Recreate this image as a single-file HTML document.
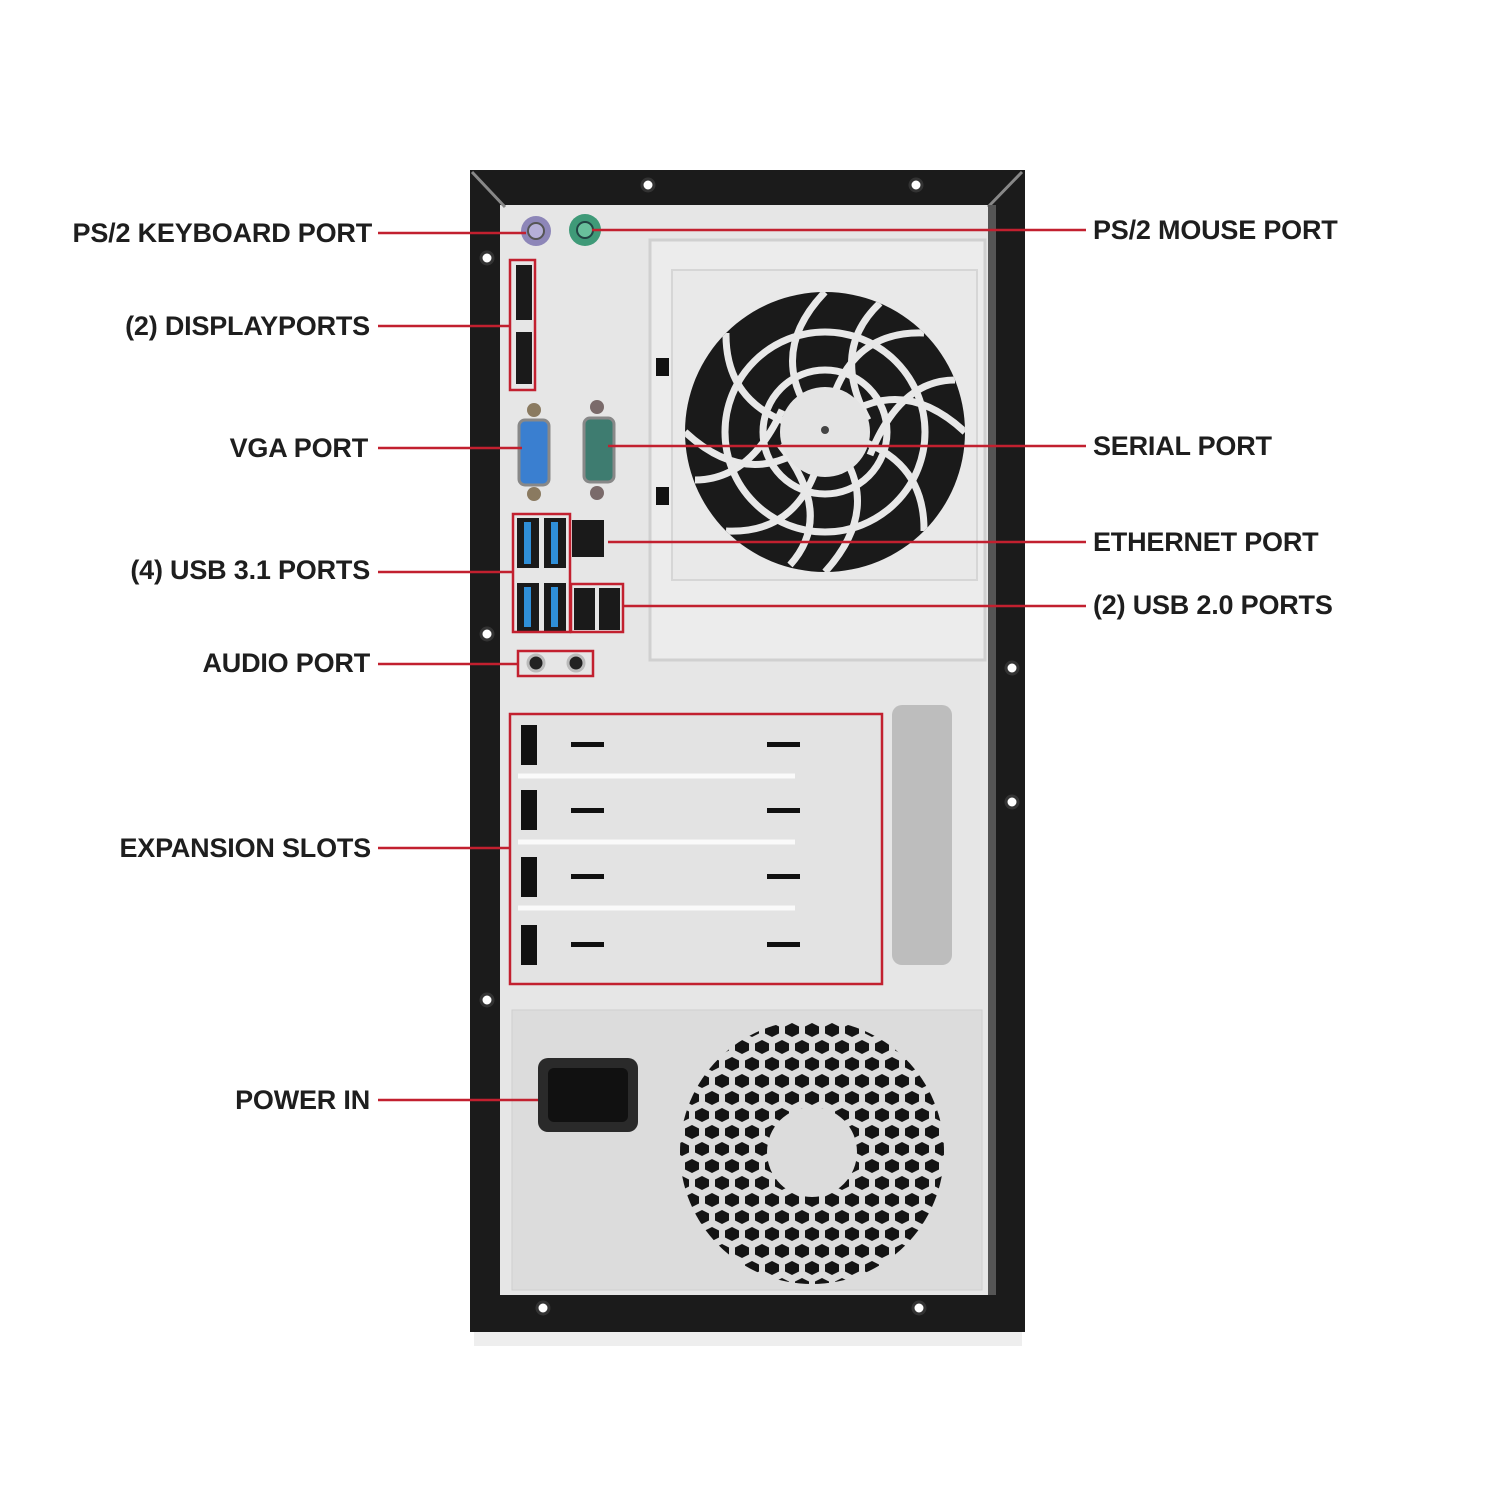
<!DOCTYPE html>
<html><head><style>
html,body{margin:0;padding:0;background:#fff;}
body{width:1500px;height:1500px;position:relative;overflow:hidden;font-family:"Liberation Sans",Arial,sans-serif;}
.l{position:absolute;font-weight:bold;font-size:27px;color:#1e1e1e;white-space:nowrap;line-height:30px;letter-spacing:-0.2px;}
.r{text-align:right;}
</style></head><body>
<svg width="1500" height="1500" style="position:absolute;left:0;top:0">
<defs>
<pattern id="hex" x="2" y="2" width="20" height="34" patternUnits="userSpaceOnUse">
<polygon points="10,1 17,4.5 17,11.5 10,15 3,11.5 3,4.5" fill="#141414"/>
<polygon points="0,18 7,21.5 7,28.5 0,32 -7,28.5 -7,21.5" fill="#141414"/>
<polygon points="20,18 27,21.5 27,28.5 20,32 13,28.5 13,21.5" fill="#141414"/>
</pattern>
<clipPath id="fanc"><circle cx="825" cy="432" r="140"/></clipPath>
</defs>
<rect x="470" y="170" width="555" height="1162" fill="#1b1b1b"/>
<rect x="474" y="1332" width="548" height="14" fill="#eee"/>
<rect x="500" y="205" width="490" height="1090" fill="#e6e6e6"/>
<line x1="472" y1="172" x2="505" y2="207" stroke="#888" stroke-width="3"/>
<line x1="1022" y1="172" x2="988" y2="207" stroke="#888" stroke-width="3"/>
<rect x="988" y="205" width="8" height="1090" fill="#555"/>
<g fill="#fff" stroke="#333" stroke-width="3">
<circle cx="648" cy="185" r="6"/><circle cx="916" cy="185" r="6"/>
<circle cx="487" cy="258" r="6"/><circle cx="487" cy="634" r="6"/><circle cx="487" cy="1000" r="6"/>
<circle cx="1012" cy="668" r="6"/><circle cx="1012" cy="802" r="6"/>
<circle cx="543" cy="1308" r="6"/><circle cx="919" cy="1308" r="6"/>
</g>
<rect x="650" y="240" width="335" height="420" fill="#ececec" stroke="#d0d0d0" stroke-width="3"/>
<rect x="672" y="270" width="305" height="310" fill="#e9e9e9" stroke="#d6d6d6" stroke-width="2"/>
<circle cx="825" cy="432" r="140" fill="#1a1a1a"/>
<g clip-path="url(#fanc)" stroke="#e8e8e8" stroke-width="7" fill="none">
<circle cx="825" cy="432" r="100"/><circle cx="825" cy="432" r="62"/>
<path d="M825 292 Q760 360 825 432 M965 432 Q895 367 825 432 M825 572 Q890 500 825 432 M685 432 Q755 497 825 432"/>
<path d="M924 333 Q840 330 825 432 M924 531 Q925 447 825 432 M726 531 Q810 535 825 432 M726 333 Q725 417 825 432"/>
<path d="M880 303 Q830 350 868 420 M955 380 Q900 380 870 455 M790 565 Q835 515 780 445 M695 480 Q750 480 782 410"/>
</g>
<circle cx="825" cy="432" r="45" fill="#e4e4e4"/>
<circle cx="825" cy="430" r="4" fill="#444"/>
<rect x="656" y="358" width="13" height="18" fill="#111"/><rect x="656" y="487" width="13" height="18" fill="#111"/>
<circle cx="536" cy="231" r="15" fill="#8d86b8"/><circle cx="536" cy="231" r="8" fill="#b5afd8" stroke="#555" stroke-width="2"/>
<circle cx="585" cy="230" r="16" fill="#3f9a78"/><circle cx="585" cy="230" r="8" fill="#68c09c" stroke="#244" stroke-width="2"/>
<rect x="516" y="265" width="16" height="55" fill="#1a1a1a"/><rect x="516" y="332" width="16" height="52" fill="#1a1a1a"/>
<rect x="519" y="420" width="30" height="65" rx="6" fill="#3a7fd0" stroke="#888" stroke-width="3"/>
<circle cx="534" cy="410" r="7" fill="#8a7a60"/><circle cx="534" cy="494" r="7" fill="#8a7a60"/>
<rect x="584" y="418" width="30" height="64" rx="6" fill="#3e7c70" stroke="#888" stroke-width="3"/>
<circle cx="597" cy="407" r="7" fill="#7a6a6a"/><circle cx="597" cy="493" r="7" fill="#7a6a6a"/>
<g fill="#1a1a1a"><rect x="517" y="518" width="22" height="50"/><rect x="544" y="518" width="22" height="50"/>
<rect x="517" y="583" width="22" height="48"/><rect x="544" y="583" width="22" height="48"/></g>
<g fill="#2f8fd8"><rect x="524" y="522" width="7" height="42"/><rect x="551" y="522" width="7" height="42"/>
<rect x="524" y="587" width="7" height="40"/><rect x="551" y="587" width="7" height="40"/></g>
<rect x="572" y="520" width="32" height="37" fill="#1a1a1a"/>
<rect x="574" y="588" width="21" height="42" fill="#1a1a1a"/><rect x="599" y="588" width="21" height="42" fill="#1a1a1a"/>
<circle cx="536" cy="663" r="8" fill="#222" stroke="#bbb" stroke-width="3"/><circle cx="576" cy="663" r="8" fill="#222" stroke="#bbb" stroke-width="3"/>
<rect x="512" y="714" width="370" height="270" fill="#e3e3e3"/>
<g fill="#111">
<rect x="521" y="725" width="16" height="40"/><rect x="521" y="790" width="16" height="40"/><rect x="521" y="857" width="16" height="40"/><rect x="521" y="925" width="16" height="40"/>
<rect x="571" y="742" width="33" height="5"/><rect x="767" y="742" width="33" height="5"/>
<rect x="571" y="808" width="33" height="5"/><rect x="767" y="808" width="33" height="5"/>
<rect x="571" y="874" width="33" height="5"/><rect x="767" y="874" width="33" height="5"/>
<rect x="571" y="942" width="33" height="5"/><rect x="767" y="942" width="33" height="5"/>
</g>
<g stroke="#fafafa" stroke-width="5"><line x1="518" y1="776" x2="795" y2="776"/><line x1="518" y1="842" x2="795" y2="842"/><line x1="518" y1="908" x2="795" y2="908"/></g>
<rect x="892" y="705" width="60" height="260" rx="10" fill="#bdbdbd"/>
<rect x="512" y="1010" width="470" height="280" fill="#dcdcdc" stroke="#cfcfcf"/>
<rect x="538" y="1058" width="100" height="74" rx="10" fill="#2a2a2a"/>
<rect x="548" y="1068" width="80" height="54" rx="6" fill="#111"/>
<circle cx="812" cy="1152" r="132" fill="url(#hex)"/>
<circle cx="812" cy="1152" r="45" fill="#dcdcdc"/>
<g stroke="#c2202f" stroke-width="2.5" fill="none">
<line x1="378" y1="233" x2="526" y2="233"/>
<line x1="592" y1="230" x2="1086" y2="230"/>
<line x1="378" y1="326" x2="510" y2="326"/>
<rect x="510" y="260" width="25" height="130"/>
<line x1="378" y1="448" x2="522" y2="448"/>
<line x1="608" y1="446" x2="1086" y2="446"/>
<line x1="608" y1="542" x2="1086" y2="542"/>
<line x1="378" y1="572" x2="513" y2="572"/>
<rect x="513" y="514" width="57" height="118"/>
<rect x="571" y="584" width="52" height="48"/>
<line x1="623" y1="606" x2="1086" y2="606"/>
<line x1="378" y1="664" x2="518" y2="664"/>
<rect x="518" y="651" width="75" height="25"/>
<line x1="378" y1="848" x2="510" y2="848"/>
<rect x="510" y="714" width="372" height="270"/>
<line x1="378" y1="1100" x2="538" y2="1100"/>
</g>
</svg>
<div class="l r" style="right:1128px;top:218px">PS/2 KEYBOARD PORT</div>
<div class="l r" style="right:1130px;top:311px">(2) DISPLAYPORTS</div>
<div class="l r" style="right:1132px;top:433px">VGA PORT</div>
<div class="l r" style="right:1130px;top:555px">(4) USB 3.1 PORTS</div>
<div class="l r" style="right:1130px;top:648px">AUDIO PORT</div>
<div class="l r" style="right:1129px;top:833px">EXPANSION SLOTS</div>
<div class="l r" style="right:1130px;top:1085px">POWER IN</div>
<div class="l" style="left:1093px;top:215px">PS/2 MOUSE PORT</div>
<div class="l" style="left:1093px;top:431px">SERIAL PORT</div>
<div class="l" style="left:1093px;top:527px">ETHERNET PORT</div>
<div class="l" style="left:1093px;top:590px">(2) USB 2.0 PORTS</div>
</body></html>
